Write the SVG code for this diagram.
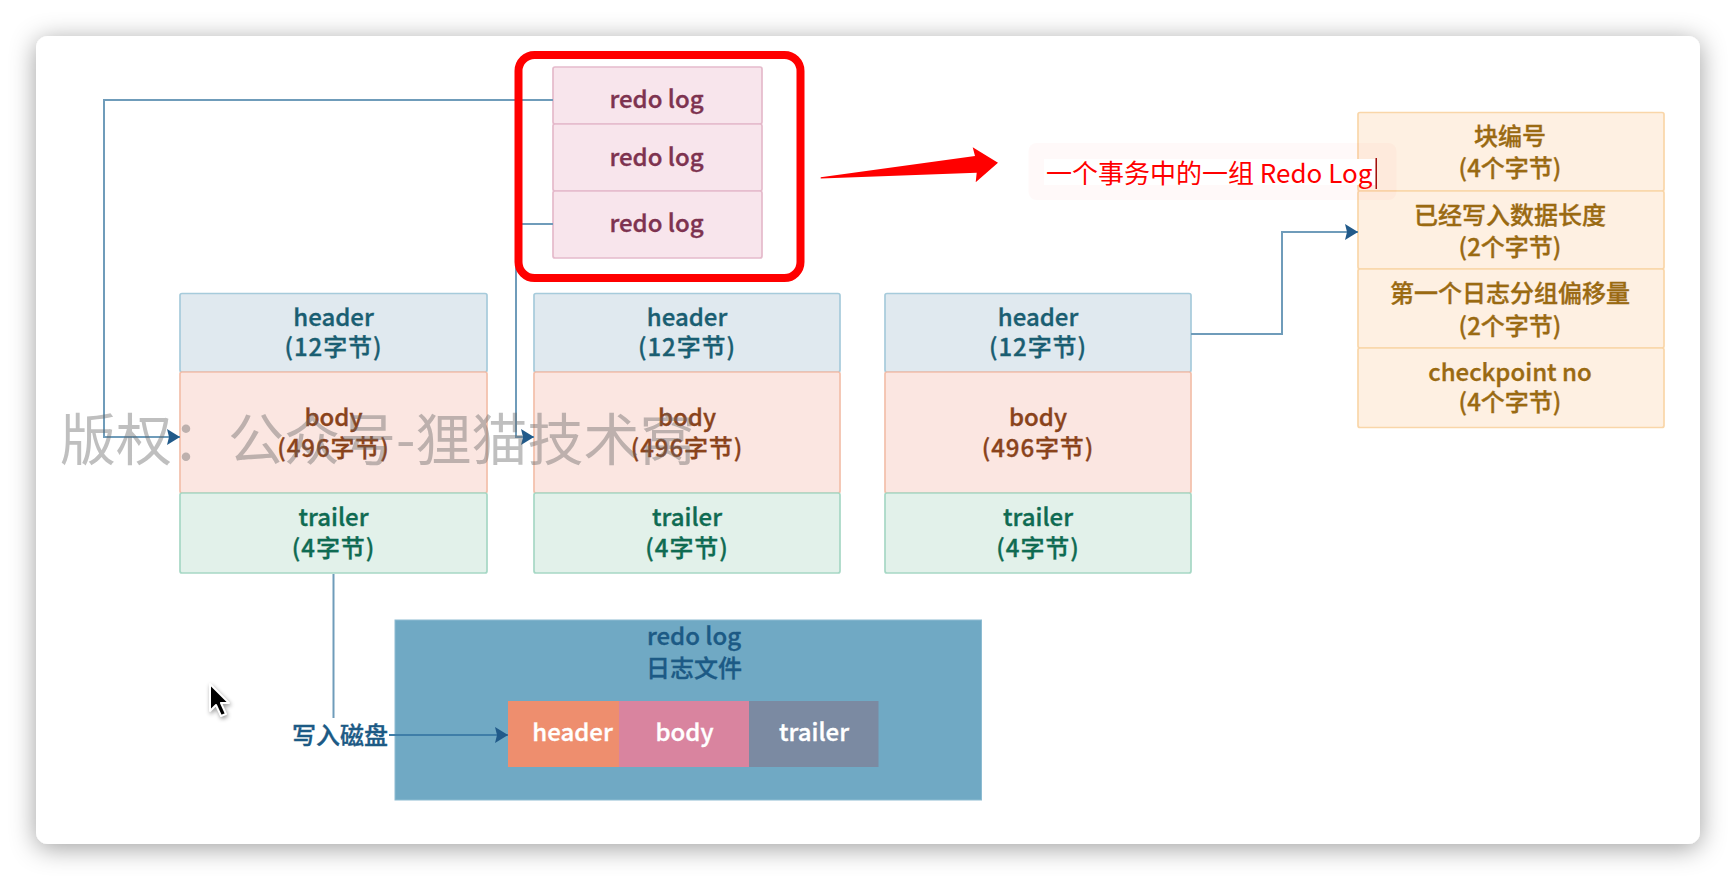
<svg xmlns="http://www.w3.org/2000/svg" width="1736" height="880" viewBox="0 0 1736 880">
<style>
text{font-family:"Noto Sans CJK SC","Noto Sans",sans-serif;font-size:24px;font-weight:500;text-anchor:middle;stroke-width:.35px}
.b{stroke-width:1.7px;rx:2px}
.redo{fill:#f8e5ec;stroke:#e5bacb}.redo-t{fill:#7e3350;stroke:#7e3350}
.hd{fill:#e0e9ef;stroke:#a6cbdb}.hd-t{fill:#1a5e72;stroke:#1a5e72}
.bd{fill:#fbe6e1;stroke:#f3bfaa}.bd-t{fill:#8a431b;stroke:#8a431b}
.tr{fill:#e2f1ea;stroke:#a6d8c5}.tr-t{fill:#0f6b52;stroke:#0f6b52}
.st{fill:#fef0e2;stroke:#f9d6a9}.st-t{fill:#9a6a12;stroke:#9a6a12}
.cn{fill:none;stroke:#6f9cba;stroke-width:2}
.blue-t{fill:#1c5a85;stroke:#1c5a85}
.w{fill:#fff;stroke:#fff}
.p{letter-spacing:.9px}
</style>
<defs>
<filter id="sh" x="-10%" y="-15%" width="120%" height="130%"><feDropShadow dx="0" dy="4" stdDeviation="13" flood-color="#000" flood-opacity="0.38"/></filter>
<marker id="ah" markerUnits="userSpaceOnUse" markerWidth="14" markerHeight="18" refX="13" refY="9" orient="auto"><path d="M0 1L13 9L0 17L2 9Z" fill="#215a8a"/></marker>
</defs>
<rect width="1736" height="880" fill="#fff"/>
<rect id="card" x="36" y="36" width="1664" height="808" rx="12" fill="#fff" filter="url(#sh)"/>
<g id="redo-stack">
<g id="redo1"><rect class="redo b" x="553" y="67" width="209" height="57"/><text class="redo-t" x="656.500" y="108">redo log</text></g>
<g id="redo2"><rect class="redo b" x="553" y="124" width="209" height="67"/><text class="redo-t" x="656.500" y="166">redo log</text></g>
<g id="redo3"><rect class="redo b" x="553" y="191" width="209" height="67"/><text class="redo-t" x="656.500" y="232">redo log</text></g>
</g>
<g id="block1">
<rect class="hd b" x="180" y="293.500" width="307" height="78.500"/><text class="hd-t" x="333.500" y="326">header</text><text class="hd-t p" x="333.500" y="356">(12字节)</text>
<rect class="bd b" x="180" y="372" width="307" height="121"/><text class="bd-t" x="333.500" y="426">body</text><text class="bd-t p" x="333.500" y="457">(496字节)</text>
<rect class="tr b" x="180" y="493" width="307" height="80"/><text class="tr-t" x="333.500" y="526">trailer</text><text class="tr-t p" x="333.500" y="557">(4字节)</text>
</g>
<g id="block2">
<rect class="hd b" x="534" y="293.500" width="306" height="78.500"/><text class="hd-t" x="687" y="326">header</text><text class="hd-t p" x="687" y="356">(12字节)</text>
<rect class="bd b" x="534" y="372" width="306" height="121"/><text class="bd-t" x="687" y="426">body</text><text class="bd-t p" x="687" y="457">(496字节)</text>
<rect class="tr b" x="534" y="493" width="306" height="80"/><text class="tr-t" x="687" y="526">trailer</text><text class="tr-t p" x="687" y="557">(4字节)</text>
</g>
<g id="block3">
<rect class="hd b" x="885" y="293.500" width="306" height="78.500"/><text class="hd-t" x="1038" y="326">header</text><text class="hd-t p" x="1038" y="356">(12字节)</text>
<rect class="bd b" x="885" y="372" width="306" height="121"/><text class="bd-t" x="1038" y="426">body</text><text class="bd-t p" x="1038" y="457">(496字节)</text>
<rect class="tr b" x="885" y="493" width="306" height="80"/><text class="tr-t" x="1038" y="526">trailer</text><text class="tr-t p" x="1038" y="557">(4字节)</text>
</g>
<g id="detail-stack">
<g id="d1"><rect class="st b" x="1358" y="112.500" width="306" height="78.500"/><text class="st-t" x="1510" y="145">块编号</text><text class="st-t" x="1510" y="177">(4个字节)</text></g>
<g id="d2"><rect class="st b" x="1358" y="191" width="306" height="78"/><text class="st-t" x="1510" y="224">已经写入数据长度</text><text class="st-t" x="1510" y="256">(2个字节)</text></g>
<g id="d3"><rect class="st b" x="1358" y="269" width="306" height="79"/><text class="st-t" x="1510" y="302">第一个日志分组偏移量</text><text class="st-t" x="1510" y="335">(2个字节)</text></g>
<g id="d4"><rect class="st b" x="1358" y="348" width="306" height="79.500"/><text class="st-t" x="1510" y="381">checkpoint no</text><text class="st-t" x="1510" y="411">(4个字节)</text></g>
</g>
<g id="redo-file">
<rect x="395" y="620" width="586.500" height="180" fill="#70a9c4" stroke="#8dbcd2" stroke-width="1"/>
<text class="blue-t" x="694" y="645">redo log</text><text class="blue-t" x="694" y="677">日志文件</text>
<g id="f-header"><rect x="508" y="701" width="111" height="66" fill="#ee8e6e"/><text class="w" x="572.500" y="741">header</text></g>
<g id="f-body"><rect x="619" y="701" width="130" height="66" fill="#d9849f"/><text class="w" x="684.500" y="741">body</text></g>
<g id="f-trailer"><rect x="749" y="701" width="129.500" height="66" fill="#7b8aa2"/><text class="w" x="814" y="741">trailer</text></g>
</g>
<text id="write-label" class="blue-t" x="340" y="744">写入磁盘</text>
<g id="connectors">
<path class="cn" d="M553 100H104V437H180" marker-end="url(#ah)"/>
<path class="cn" d="M553 224H516V437H534" marker-end="url(#ah)"/>
<path class="cn" d="M1191 334H1282V232H1358" marker-end="url(#ah)"/>
<path class="cn" d="M333.500 574V718"/>
<path class="cn" d="M389 735H508" marker-end="url(#ah)" style="stroke:#3f7ea8"/>
</g>
<rect id="red-box" x="518.500" y="55" width="282" height="223" rx="16" fill="none" stroke="#ff0000" stroke-width="8"/>
<path id="red-arrow" d="M820.700 177.300L975 156L972.700 147.300L998 162.700L975.700 182.300L976.700 172.700L820.700 178.500Z" fill="#ff0000"/>
<g id="note">
<rect x="1028.500" y="143" width="368" height="57" rx="8" fill="#ff0000" fill-opacity="0.025"/>
<rect x="1044" y="159" width="331" height="26" fill="#fff"/>
<text x="1046" y="183" style="font-size:26px;font-weight:400;text-anchor:start;fill:#ff0000">一个事务中的一组 Redo Log</text>
<rect x="1375.500" y="158" width="1.500" height="31" fill="#a01010"/>
</g>
<g id="cursor"><path d="M210 684V711L216 705L221 716L226 714L221 703H229Z" fill="#000" stroke="#fff" stroke-width="2" stroke-linejoin="round" style="filter:drop-shadow(1px 2px 2px rgba(0,0,0,.4))"/></g>
<text id="watermark" x="60" y="460" style="font-size:56px;font-weight:400;text-anchor:start;fill:#666;fill-opacity:.42;stroke-width:0">版权：公众号-狸猫技术窝</text>
</svg>
